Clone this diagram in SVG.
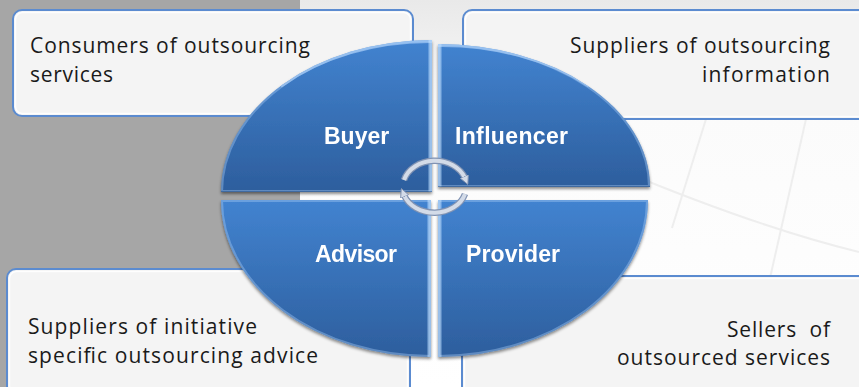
<svg xmlns="http://www.w3.org/2000/svg" width="859" height="387" viewBox="0 0 859 387">
  <defs>
    <linearGradient id="paper" x1="0" y1="0" x2="0" y2="1">
      <stop offset="0" stop-color="#e9e9e9"/>
      <stop offset="0.3" stop-color="#fbfbfb"/>
      <stop offset="1" stop-color="#ffffff"/>
    </linearGradient>
    <linearGradient id="segFill" x1="0" y1="0" x2="0" y2="1">
      <stop offset="0" stop-color="#4283d0"/>
      <stop offset="1" stop-color="#2d5e9d"/>
    </linearGradient>
    <filter id="segShadow" x="-10%" y="-10%" width="120%" height="130%">
      <feDropShadow dx="0" dy="2" stdDeviation="1.5" flood-color="#000000" flood-opacity="0.45"/>
    </filter>
    <clipPath id="clipBuyer"><path d="M432 192 L221 192 A211 152 0 0 1 432 40 Z"/></clipPath>
    <clipPath id="clipInfluencer"><path d="M438 44 A212 143 0 0 1 650 187 L438 187 Z"/></clipPath>
    <clipPath id="clipAdvisor"><path d="M221 200 L431 200 L431 357 A210 157 0 0 1 221 200 Z"/></clipPath>
    <clipPath id="clipProvider"><path d="M438 200 L648 200 A210 157 0 0 1 438 357 Z"/></clipPath>
    <marker id="loopHead" viewBox="0 0 10 10" refX="2" refY="5" markerWidth="2.2" markerHeight="2.2" orient="auto" markerUnits="strokeWidth">
      <path d="M0 0 L10 5 L0 10 Z" fill="#d3dbe8" stroke="#8193b3" stroke-width="1"/>
    </marker>
    <style>
      .box { fill: #f4f4f4; stroke: #5b8bd0; stroke-width: 2; }
      .boxInner { fill: none; stroke: #ffffff; stroke-width: 1.5; opacity: 0.9; }
      .note { font-family: "Open Sans", "Liberation Sans", sans-serif; font-size: 21px; fill: #1a1a1a; }
      .seg { fill: url(#segFill); }
      .bevel { fill: none; stroke: #a9cdf5; stroke-width: 4; opacity: 0.4; }
      .bevelTop { fill: none; stroke: #b9dbff; stroke-width: 6; opacity: 0.55; }
      .bevelEdge { fill: none; stroke: #bfe0ff; stroke-width: 7; opacity: 0.6; }
      .bevelDark { fill: none; stroke: #1f4a80; stroke-width: 2; opacity: 0.5; }
      .label { font-family: "Liberation Sans", Arial, sans-serif; font-size: 23px; font-weight: bold; fill: #ffffff; }
      .globe { fill: none; stroke: #eeeeee; stroke-width: 2; }
      .loopOuter { fill: none; stroke: #8193b3; stroke-width: 6.5; stroke-linecap: butt; }
      .loopInner { fill: none; stroke: #d3dbe8; stroke-width: 4; stroke-linecap: butt; }
    </style>
  </defs>

  <!-- backdrop: grey panel on the left, pale paper with faint globe grid on the right -->
  <rect x="0" y="0" width="859" height="387" fill="url(#paper)"/>
  <rect x="0" y="0" width="300" height="387" fill="#a6a6a6"/>
  <g id="globe-grid">
    <path class="globe" d="M620 170 Q760 228 859 252"/>
    <path class="globe" d="M706 119 L672 228"/>
    <path class="globe" d="M806 119 L770 278"/>
  </g>

  <!-- description boxes (behind the wheel) -->
  <g id="box-consumers">
    <rect class="box" x="13" y="10" width="400" height="106" rx="9"/>
    <rect class="boxInner" x="15.5" y="12.5" width="395" height="101" rx="7"/>
    <text class="note" x="30" y="53" textLength="280" lengthAdjust="spacing">Consumers of outsourcing</text>
    <text class="note" x="30" y="82" textLength="83" lengthAdjust="spacing">services</text>
  </g>
  <g id="box-information">
    <rect class="box" x="463" y="10" width="410" height="109" rx="9"/>
    <rect class="boxInner" x="465.5" y="12.5" width="405" height="104" rx="7"/>
    <text class="note" x="830" y="53" text-anchor="end" textLength="260" lengthAdjust="spacing">Suppliers of outsourcing</text>
    <text class="note" x="830" y="82" text-anchor="end" textLength="128" lengthAdjust="spacing">information</text>
  </g>
  <g id="box-advice">
    <rect class="box" x="7" y="269" width="403" height="126" rx="9"/>
    <rect class="boxInner" x="9.5" y="271.5" width="398" height="121" rx="7"/>
    <text class="note" x="28" y="334" textLength="229" lengthAdjust="spacing">Suppliers of initiative</text>
    <text class="note" x="28" y="363" textLength="290" lengthAdjust="spacing">specific outsourcing advice</text>
  </g>
  <g id="box-sellers">
    <rect class="box" x="462" y="276" width="413" height="126" rx="9"/>
    <rect class="boxInner" x="464.5" y="278.5" width="408" height="121" rx="7"/>
    <text class="note" x="830" y="337" text-anchor="end" textLength="103" lengthAdjust="spacing" xml:space="preserve">Sellers  of</text>
    <text class="note" x="830" y="365" text-anchor="end" textLength="213" lengthAdjust="spacing">outsourced services</text>
  </g>

  <!-- the four wheel segments -->
  <g id="seg-buyer" filter="url(#segShadow)">
    <path class="seg" d="M432 192 L221 192 A211 152 0 0 1 432 40 Z"/>
    <g clip-path="url(#clipBuyer)">
      <path class="bevel" d="M432 192 L221 192 A211 152 0 0 1 432 40 Z"/>
      <path class="bevelTop" d="M280 85 A211 152 0 0 1 432 40"/>
      <path class="bevelEdge" d="M432 40 L432 192"/>
      <path class="bevelDark" d="M221 192 L432 192"/>
    </g>
    <text class="label" x="324" y="144">Buyer</text>
  </g>
  <g id="seg-influencer" filter="url(#segShadow)">
    <path class="seg" d="M438 44 A212 143 0 0 1 650 187 L438 187 Z"/>
    <g clip-path="url(#clipInfluencer)">
      <path class="bevel" d="M438 44 A212 143 0 0 1 650 187 L438 187 Z"/>
      <path class="bevelTop" d="M438 44 A212 143 0 0 1 590 85"/>
      <path class="bevelEdge" d="M438 44 L438 187"/>
      <path class="bevelDark" d="M438 187 L650 187"/>
    </g>
    <text class="label" x="455" y="144" textLength="113" lengthAdjust="spacing">Influencer</text>
  </g>
  <g id="seg-advisor" filter="url(#segShadow)">
    <path class="seg" d="M221 200 L431 200 L431 357 A210 157 0 0 1 221 200 Z"/>
    <g clip-path="url(#clipAdvisor)">
      <path class="bevel" d="M221 200 L431 200 L431 357 A210 157 0 0 1 221 200 Z"/>
      <path class="bevelEdge" d="M431 200 L431 357"/>
    </g>
    <text class="label" x="315" y="262" textLength="82" lengthAdjust="spacing">Advisor</text>
  </g>
  <g id="seg-provider" filter="url(#segShadow)">
    <path class="seg" d="M438 200 L648 200 A210 157 0 0 1 438 357 Z"/>
    <g clip-path="url(#clipProvider)">
      <path class="bevel" d="M438 200 L648 200 A210 157 0 0 1 438 357 Z"/>
      <path class="bevelEdge" d="M438 200 L438 357"/>
    </g>
    <text class="label" x="466" y="262" textLength="94" lengthAdjust="spacing">Provider</text>
  </g>

  <!-- circular arrows in the hub -->
  <g id="connectors">
    <path class="loopOuter" d="M404 180 A32 26 0 0 1 465 178"/>
    <path class="loopInner" d="M404 180 A32 26 0 0 1 465 178" marker-end="url(#loopHead)"/>
    <path class="loopOuter" d="M465 194 A32 26 0 0 1 404 195"/>
    <path class="loopInner" d="M465 194 A32 26 0 0 1 404 195" marker-end="url(#loopHead)"/>
  </g>
</svg>
